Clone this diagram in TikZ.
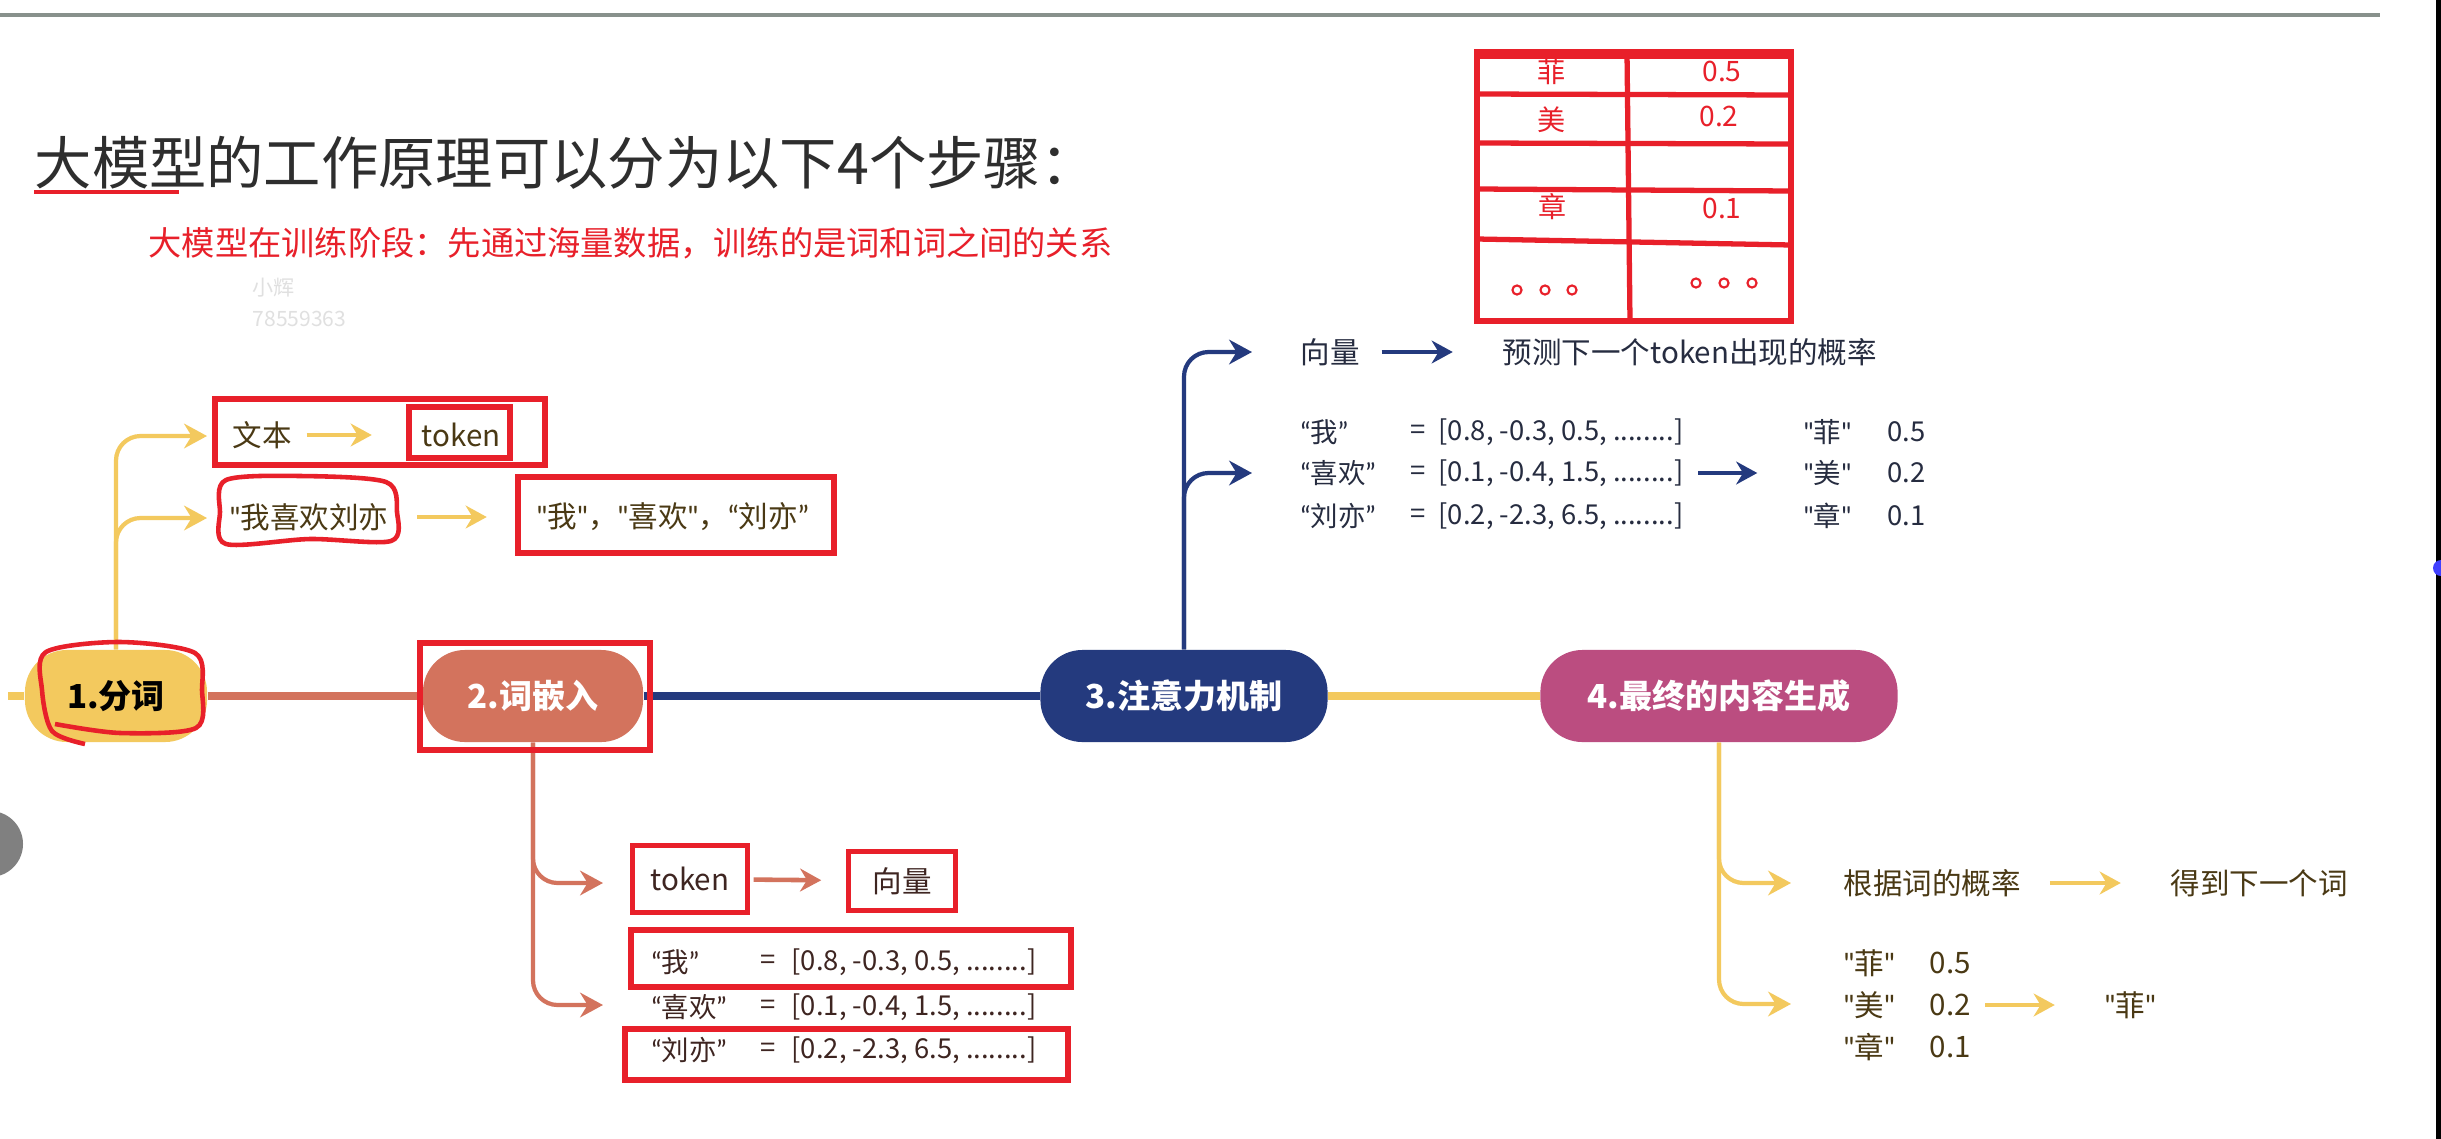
\documentclass[tikz,border=0pt]{standalone}
\usepackage{fontspec}
\setmainfont{Noto Sans CJK SC}
\newfontfamily\latf[Ligatures=TeXOff]{Lato}
\usetikzlibrary{arrows.meta}

\definecolor{stepyellow}{HTML}{F3C95E}
\definecolor{stepsalmon}{HTML}{D3735D}
\definecolor{stepnavy}{HTML}{243A7E}
\definecolor{steppink}{HTML}{BB4D80}
\definecolor{markred}{HTML}{E8202A}
\definecolor{olivetext}{HTML}{4A3914}
\definecolor{browntext}{HTML}{3E2521}
\definecolor{slatetext}{HTML}{262C40}
\definecolor{titlegray}{HTML}{2E2E2E}
\definecolor{rulegray}{HTML}{88918C}

% quotes from a Latin font, so they stay narrow
\newcommand{\cq}[1]{{\latf “}#1{\latf ”}}
\newcommand{\sq}[1]{{\latf "}#1{\latf "}}

\tikzset{
  stepnode/.style={rectangle, rounded corners=0.42cm, minimum height=0.92cm, inner sep=0pt,
    text=white, font=\fontsize{9.4}{11}\selectfont\bfseries},
  link/.style={line width=2pt},
  branch/.style={line width=1.2pt, rounded corners=7pt, -{Stealth[length=6.5pt,width=7pt]}},
  leafarrow/.style={line width=1.3pt, -{Stealth[length=6pt,width=6.5pt]}},
  leaf/.style={anchor=west, inner sep=0pt, font=\fontsize{8.4}{10}\selectfont},
  vecleaf/.style={anchor=west, inner sep=0pt, font=\fontsize{7.8}{10}\selectfont},
  markbox/.style={draw=markred, line width=1.5pt},
  cell/.style={inner sep=0pt, text=markred, font=\fontsize{8}{10}\selectfont},
}

\begin{document}
\begin{tikzpicture}[x=0.01cm, y=-0.01cm]
\useasboundingbox (0,0) rectangle (2441,1139);
\fill[white] (0,0) rectangle (2441,1139);

% screen edges
\draw[rulegray, line width=1.4pt] (0,15) -- (2380,15);
\fill[black] (2436,0) rectangle (2441,1139);
\fill[black!50] (-10,844) circle (0.33cm);
\fill[blue!75] (2441,568) circle (0.08cm);

% headings
\node[anchor=west, inner sep=0pt, text=titlegray, font=\fontsize{16.3}{20}\selectfont] (title) at (34,163) {大模型的工作原理可以分为以下4个步骤：};
\draw[markred, line width=1.2pt] (34,192) -- (179,192);
\node[anchor=west, inner sep=0pt, text=markred, font=\fontsize{9.45}{12}\selectfont] (note) at (148,243) {大模型在训练阶段：先通过海量数据，训练的是词和词之间的关系};
\node[anchor=west, inner sep=0pt, text=black!12, font=\fontsize{6}{7}\selectfont] (wmname) at (252,288) {小辉};
\node[anchor=west, inner sep=0pt, text=black!12, font=\fontsize{6}{7}\selectfont] (wmnum) at (252,319) {78559363};

% the four steps
\node[stepnode, fill=stepyellow, text=black, minimum width=1.82cm] (s1) at (116,696) {1.分词};
\node[stepnode, fill=stepsalmon, minimum width=2.2cm] (s2) at (533,696) {2.词嵌入};
\node[stepnode, fill=stepnavy, minimum width=2.87cm] (s3) at (1184,696) {3.注意力机制};
\node[stepnode, fill=steppink, minimum width=3.57cm] (s4) at (1719,696) {4.最终的内容生成};

\coordinate (stub) at (8,696);
\draw[link, stepyellow] (stub) -- (s1.west);
\draw[link, stepsalmon] (s1.east) -- (s2.west);
\draw[link, stepnavy] (s2.east) -- (s3.west);
\draw[link, stepyellow] (s3.east) -- (s4.west);

% step 1: tokens
\coordinate (a1) at (207,436);
\coordinate (a2) at (207,518);
\draw[branch, stepyellow] (s1.north) |- (a1);
\draw[branch, stepyellow] (s1.north) |- (a2);
\node[leaf, text=olivetext] (text1) at (232,435) {文本};
\node[leaf, text=olivetext] (tok1) at (421,435) {token};
\draw[leafarrow, stepyellow, shorten <=4pt, shorten >=14pt] (text1) -- (tok1);
\node[leaf, text=olivetext] (sent1) at (229,517) {{\latf "}我喜欢刘亦};
\node[leaf, text=olivetext] (words1) at (536,517) {\sq{我}，\sq{喜欢}，\cq{刘亦}};
\draw[leafarrow, stepyellow, shorten <=8pt, shorten >=14pt] (sent1) -- (words1);

% step 2: embeddings
\coordinate (b1) at (603,883);
\coordinate (b2) at (603,1005);
\draw[branch, stepsalmon] (s2.south) |- (b1);
\draw[branch, stepsalmon] (s2.south) |- (b2);
\node[markbox, inner sep=0pt, minimum width=1.15cm, minimum height=0.67cm, text=browntext, font=\fontsize{8.4}{10}\selectfont] (tok2) at (690,879) {token};
\node[markbox, inner sep=0pt, minimum width=1.07cm, minimum height=0.59cm, text=browntext, font=\fontsize{8.4}{10}\selectfont] (vec2) at (902,881) {向量};
\draw[leafarrow, stepsalmon, shorten <=1pt, shorten >=7pt] (tok2) -- (vec2);
\node[vecleaf, text=browntext] (w2a) at (651,962) {\cq{我}};
\node[vecleaf, text=browntext] (e2a) at (760,962) {=};
\node[vecleaf, text=browntext] (v2a) at (791,962) {[0.8, -0.3, 0.5, ........]};
\node[vecleaf, text=browntext] (w2b) at (651,1007) {\cq{喜欢}};
\node[vecleaf, text=browntext] (e2b) at (760,1007) {=};
\node[vecleaf, text=browntext] (v2b) at (791,1007) {[0.1, -0.4, 1.5, ........]};
\node[vecleaf, text=browntext] (w2c) at (651,1050) {\cq{刘亦}};
\node[vecleaf, text=browntext] (e2c) at (760,1050) {=};
\node[vecleaf, text=browntext] (v2c) at (791,1050) {[0.2, -2.3, 6.5, ........]};

% step 3: attention
\coordinate (c1) at (1252,352);
\coordinate (c2) at (1252,473);
\draw[branch, stepnavy] (s3.north) |- (c1);
\draw[branch, stepnavy] (s3.north) |- (c2);
\node[leaf, text=slatetext] (vec3) at (1300,352) {向量};
\node[leaf, text=slatetext] (pred3) at (1502,352) {预测下一个token出现的概率};
\draw[leafarrow, stepnavy, shorten <=6pt, shorten >=14pt] (vec3) -- (pred3);
\node[vecleaf, text=slatetext] (w3a) at (1300,432) {\cq{我}};
\node[vecleaf, text=slatetext] (e3a) at (1410,432) {=};
\node[vecleaf, text=slatetext] (v3a) at (1438,432) {[0.8, -0.3, 0.5, ........]};
\node[vecleaf, text=slatetext] (w3b) at (1300,473) {\cq{喜欢}};
\node[vecleaf, text=slatetext] (e3b) at (1410,473) {=};
\node[vecleaf, text=slatetext] (v3b) at (1438,473) {[0.1, -0.4, 1.5, ........]};
\node[vecleaf, text=slatetext] (w3c) at (1300,516) {\cq{刘亦}};
\node[vecleaf, text=slatetext] (e3c) at (1410,516) {=};
\node[vecleaf, text=slatetext] (v3c) at (1438,516) {[0.2, -2.3, 6.5, ........]};
\node[vecleaf, text=slatetext] (p3a) at (1803,432) {\sq{菲}};
\node[vecleaf, text=slatetext] (n3a) at (1887,432) {0.5};
\node[vecleaf, text=slatetext] (p3b) at (1803,473) {\sq{美}};
\node[vecleaf, text=slatetext] (n3b) at (1887,473) {0.2};
\node[vecleaf, text=slatetext] (p3c) at (1803,516) {\sq{章}};
\node[vecleaf, text=slatetext] (n3c) at (1887,516) {0.1};
\draw[leafarrow, stepnavy, shorten <=4pt, shorten >=13pt] (v3b) -- (p3b);

% step 4: output
\coordinate (d1) at (1791,883);
\coordinate (d2) at (1791,1004);
\draw[branch, stepyellow] (s4.south) |- (d1);
\draw[branch, stepyellow] (s4.south) |- (d2);
\node[leaf, text=olivetext] (prob4) at (1843,883) {根据词的概率};
\node[leaf, text=olivetext] (next4) at (2170,883) {得到下一个词};
\draw[leafarrow, stepyellow, shorten <=8pt, shorten >=14pt] (prob4) -- (next4);
\node[leaf, text=olivetext] (p4a) at (1843,963) {\sq{菲}};
\node[leaf, text=olivetext] (n4a) at (1929,963) {0.5};
\node[leaf, text=olivetext] (p4b) at (1843,1005) {\sq{美}};
\node[leaf, text=olivetext] (n4b) at (1929,1005) {0.2};
\node[leaf, text=olivetext] (p4c) at (1843,1047) {\sq{章}};
\node[leaf, text=olivetext] (n4c) at (1929,1047) {0.1};
\node[leaf, text=olivetext] (pick4) at (2104,1005) {\sq{菲}};
\draw[leafarrow, stepyellow, shorten <=4pt, shorten >=14pt] (n4b) -- (pick4);

% red table of probabilities
\draw[markred, line width=1.5pt] (1477,52) rectangle (1791,321);
\draw[markred, line width=2.6pt] (1477,54) -- (1791,54);
\draw[markred, line width=1.5pt] (1627,52) -- (1630,321);
\draw[markred, line width=1.5pt] (1477,94) -- (1791,95);
\draw[markred, line width=1.5pt] (1477,143) -- (1791,144);
\draw[markred, line width=1.5pt] (1477,189) -- (1791,191);
\draw[markred, line width=1.5pt] (1477,239) -- (1791,245);
\node[cell] (tfei) at (1552,72) {菲};
\node[cell] (tfeiv) at (1722,71) {0.5};
\node[cell] (tmei) at (1552,120) {美};
\node[cell] (tmeiv) at (1719,116) {0.2};
\node[cell] (tzhang) at (1553,207) {章};
\node[cell] (tzhangv) at (1722,208) {0.1};
\draw[markred, line width=0.6pt] (1517,290) circle (1.3pt) (1545,290) circle (1.3pt) (1572,290) circle (1.3pt);
\draw[markred, line width=0.6pt] (1696,283) circle (1.3pt) (1724,283) circle (1.3pt) (1752,283) circle (1.3pt);

% red marks
\draw[markred, line width=1.5pt] (215,399) rectangle (545,465);
\draw[markred, line width=1.5pt] (409,407) rectangle (510,458);
\draw[markred, line width=1.5pt] (518,477) rectangle (834,553);
\draw[markred, line width=1.5pt] (420,643) rectangle (650,750);
\draw[markred, line width=1.5pt] (631,930) rectangle (1071,987);
\draw[markred, line width=1.5pt] (625,1029) rectangle (1068,1080);
\draw[markred, line width=1.3pt] plot[smooth cycle] coordinates {(226,480) (300,476) (386,482) (397,512) (391,541) (310,539) (226,544) (220,512)};
\draw[markred, line width=1.3pt] plot[smooth] coordinates {(85,744) (52,731) (42,690) (46,652) (120,642) (195,653) (202,690) (196,728) (120,733) (55,724)};
\end{tikzpicture}
\end{document}
